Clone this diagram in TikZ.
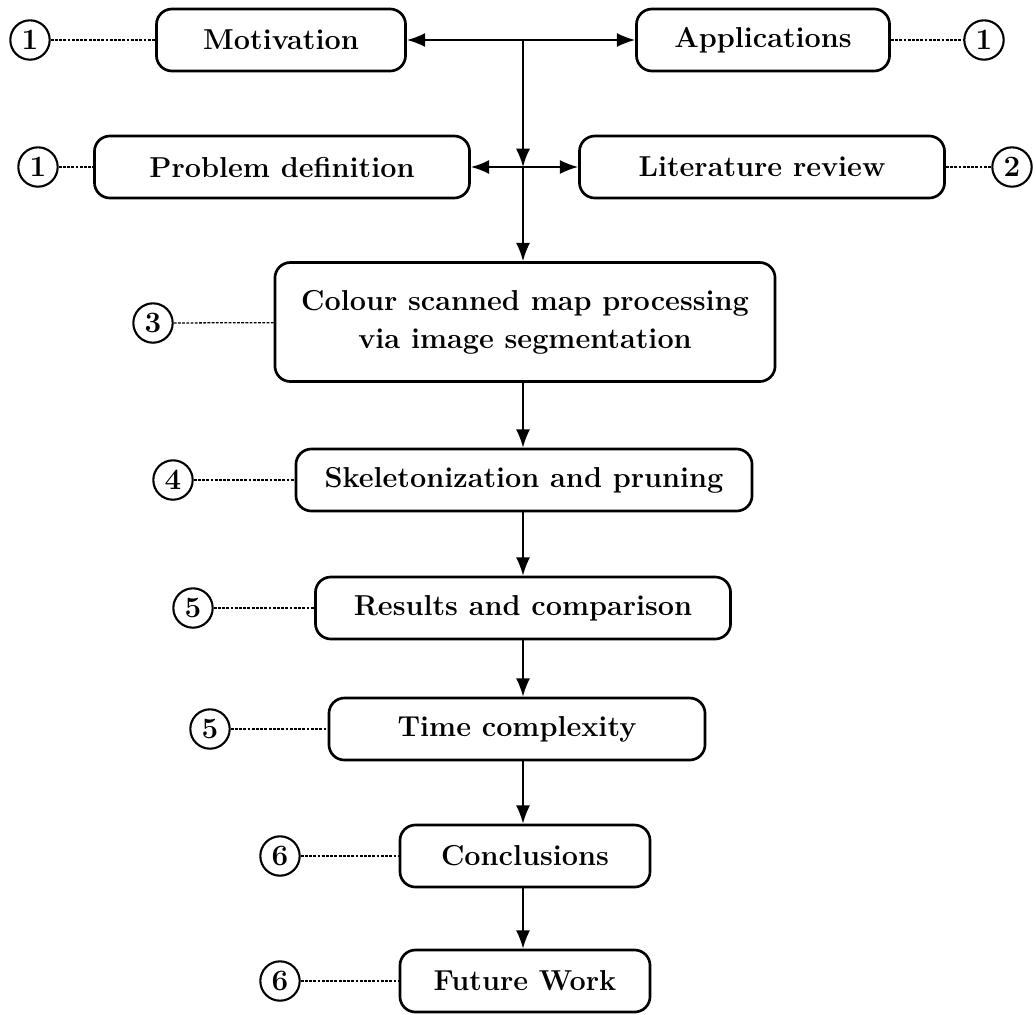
\documentclass[tikz,border=0pt]{standalone}
\usetikzlibrary{arrows.meta}

\begin{document}
\begin{tikzpicture}[x=0.025cm, y=-0.025cm,
    stage/.style={draw, rounded corners=11pt, line width=1.9pt, align=center,
      inner sep=0pt, minimum height=1.55cm, font=\fontsize{20.5}{27}\selectfont\bfseries},
    chap/.style={draw, circle, line width=1.5pt, minimum size=28pt, inner sep=0pt,
      font=\fontsize{21}{21}\selectfont\bfseries},
    flow/.style={line width=1.3pt, -{Latex[length=13pt,width=10pt]}},
    link/.style={line width=0.9pt, dash pattern=on 2pt off 1pt}]

        % stages
        \node [stage, minimum width=6.225cm] (mot) at (281, 40) {Motivation};
        \node [stage, minimum width=6.325cm] (app) at (763, 40) {Applications};
        \node [stage, minimum width=9.375cm] (prob) at (282, 167) {Problem definition};
        \node [stage, minimum width=9.125cm] (lit) at (762, 167) {Literature review};
        \node [stage, minimum width=12.5cm, minimum height=2.975cm] (seg) at (525, 322)
              {Colour scanned map processing\\via image segmentation};
        \node [stage, minimum width=11.4cm] (skel) at (524, 480) {Skeletonization and pruning};
        \node [stage, minimum width=10.375cm] (res) at (523, 608) {Results and comparison};
        \node [stage, minimum width=9.4cm] (time) at (517, 729) {Time complexity};
        \node [stage, minimum width=6.25cm] (conc) at (525, 856) {Conclusions};
        \node [stage, minimum width=6.25cm] (fut) at (525, 981) {Future Work};

        % chapter marks
        \node [chap] (c1) at (30, 40) {1};
        \node [chap] (c2) at (984, 40) {1};
        \node [chap] (c3) at (38, 167) {1};
        \node [chap] (c4) at (1012, 167) {2};
        \node [chap] (c5) at (153, 323) {3};
        \node [chap] (c6) at (173, 480) {4};
        \node [chap] (c7) at (193, 608) {5};
        \node [chap] (c8) at (210, 729) {5};
        \node [chap] (c9) at (280, 856) {6};
        \node [chap] (c10) at (280, 981) {6};

        \coordinate (top) at (523, 40);
        \coordinate (mid) at (523, 167);

        % arrows
        \draw[flow] (top) -- (mot.east);
        \draw[flow] (top) -- (app.west);
        \draw[flow] (top) -- (mid);
        \draw[flow] (mid) -- (prob.east);
        \draw[flow] (mid) -- (lit.west);
        \draw[flow] (mid) -- (mid |- seg.north);
        \draw[flow] (seg.south -| mid) -- (skel.north -| mid);
        \draw[flow] (skel.south -| mid) -- (res.north -| mid);
        \draw[flow] (res.south -| mid) -- (time.north -| mid);
        \draw[flow] (time.south -| mid) -- (conc.north -| mid);
        \draw[flow] (conc.south -| mid) -- (fut.north -| mid);

        % dotted links
        \draw[link] (c1) -- (mot);
        \draw[link] (app) -- (c2);
        \draw[link] (c3) -- (prob);
        \draw[link] (lit) -- (c4);
        \draw[link] (c5) -- (seg);
        \draw[link] (c6) -- (skel);
        \draw[link] (c7) -- (res);
        \draw[link] (c8) -- (time);
        \draw[link] (c9) -- (conc);
        \draw[link] (c10) -- (fut);

        \path[use as bounding box] (0, 0) rectangle (1036, 1014);
      \end{tikzpicture}
\end{document}
